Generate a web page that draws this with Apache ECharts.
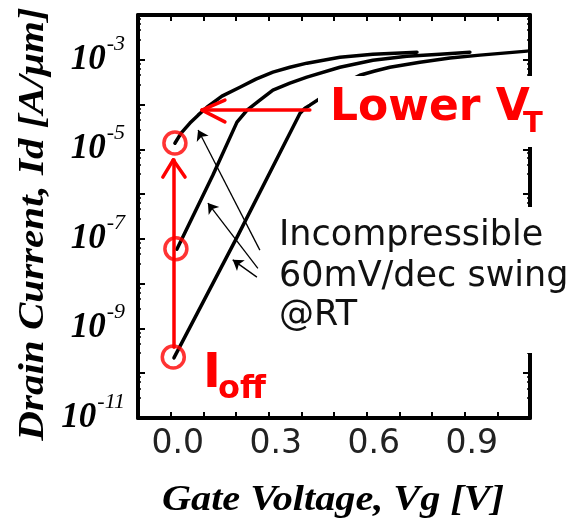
<!DOCTYPE html>
<html><head><meta charset="utf-8">
<script src="https://cdn.jsdelivr.net/npm/echarts@6/dist/echarts.min.js"></script>
<style>html,body{margin:0;padding:0;background:#fff}#c{width:571px;height:524px}</style>
</head><body><div id="c"></div>
<script>
// ---- data ----
const curve1Vg = [0.013, 0.032, 0.059, 0.084, 0.111, 0.157, 0.212, 0.261, 0.313, 0.365, 0.417, 0.518, 0.619, 0.754];
const curve1Id = [1.37e-5, 2.3e-5, 3.85e-5, 5.8e-5, 8.7e-5, 1.54e-4, 2.44e-4, 3.7e-4, 5.3e-4, 6.8e-4, 8.4e-4, 1.14e-3, 1.33e-3, 1.48e-3];

const curve2Vg = [0.019, 0.129, 0.203, 0.234, 0.273, 0.313, 0.365, 0.417, 0.518, 0.619, 0.723, 0.824, 0.916];
const curve2Id = [5.9e-8, 2.65e-6, 4.05e-5, 7.5e-5, 1.25e-4, 2.1e-4, 3.0e-4, 4.1e-4, 6.8e-4, 9.8e-4, 1.2e-3, 1.33e-3, 1.48e-3];

const curve3Vg = [0.010, 0.206, 0.396, 0.411, 0.426, 0.463, 0.506, 0.543, 0.579, 0.625, 0.671, 0.763, 0.855, 0.947, 1.091];
const curve3Id = [2.2e-10, 1.2e-7, 6.4e-5, 8.3e-5, 9.7e-5, 1.46e-4, 2.3e-4, 3.3e-4, 4.5e-4, 5.6e-4, 6.8e-4, 8.8e-4, 1.09e-3, 1.27e-3, 1.56e-3];

const circleVg = [0.013, 0.016, 0.008];
const circleId = [1.38e-5, 6.0e-8, 2.3e-10];

const ioffArrowTail = [0.008, 3.8e-10];
const ioffArrowTip = [0.008, 5.8e-6];
const ioffArrowWings = [[-0.024, 2.4e-6], [0.044, 2.4e-6]];

const vtArrowTail = [0.426, 7.5e-5];
const vtArrowTip = [0.096, 7.5e-5];
const vtArrowWings = [[0.166, 1.26e-4], [0.166, 4.1e-5]];

const swingArrowTails = [[0.273, 5.6e-8], [0.267, 2.2e-8], [0.264, 1.4e-8]];
const swingArrowTips = [[0.084, 2.7e-5], [0.114, 6.3e-7], [0.19, 3.4e-8]];

const xLabelValues = [0.0, 0.3, 0.6, 0.9];
const xLabelTexts = ['0.0', '0.3', '0.6', '0.9'];
const yLabelExponents = [-3, -5, -7, -9, -11];

const annotationLines = ['Incompressible', '60mV/dec swing', '@RT'];

// ---- chart ----
function pairs(xs, ys) { return xs.map((x, i) => [x, ys[i]]); }
function seg(a, b) { return [{ coord: a }, { coord: b }]; }

const chart = echarts.init(document.getElementById('c'), null, { renderer: 'canvas' });

const X_MIN = -0.1, X_MAX = 1.1, Y_MIN = 1e-11, Y_MAX = 1e-2;
const axisLineStyle = { color: '#000', width: 4 };
const tickStyle = { color: '#000', width: 2 };

function xAxisCfg(pos, showLabel) {
  return {
    type: 'value', position: pos, min: X_MIN, max: X_MAX, interval: 0.1,
    axisLine: { show: true, onZero: false, lineStyle: axisLineStyle },
    axisTick: { show: true, inside: true, length: 6, lineStyle: tickStyle },
    splitLine: { show: false },
    axisLabel: {
      show: showLabel, margin: 10, padding: [0, 0, 0, 14],
      fontFamily: 'DejaVu Sans', fontSize: 33, color: '#222',
      formatter: function (v) {
        for (let i = 0; i < xLabelValues.length; i++) {
          if (Math.abs(v - xLabelValues[i]) < 1e-6) return xLabelTexts[i];
        }
        return '';
      }
    }
  };
}
function yAxisCfg(pos, showLabel) {
  return {
    type: 'log', logBase: 10, position: pos, min: Y_MIN, max: Y_MAX, interval: 1,
    axisLine: { show: true, onZero: false, lineStyle: axisLineStyle },
    axisTick: { show: true, inside: true, length: 7, lineStyle: tickStyle },
    minorTick: { show: true, splitNumber: 5, length: 3, lineStyle: { color: '#000', width: 1.5 } },
    splitLine: { show: false },
    axisLabel: {
      show: showLabel, margin: 13,
      formatter: function (v) {
        const e = Math.round(Math.log10(v));
        if (yLabelExponents.indexOf(e) >= 0) return '{b|10}{s|' + e + '}';
        return '';
      },
      rich: {
        b: { fontFamily: 'Liberation Serif', fontStyle: 'italic', fontWeight: 'bold', fontSize: 35, color: '#000', lineHeight: 36, verticalAlign: 'middle' },
        s: { fontFamily: 'Liberation Serif', fontStyle: 'italic', fontSize: 22, color: '#000', verticalAlign: 'top', padding: [0, 0, 32, 1] }
      }
    }
  };
}

const curveStyle = { color: '#000', width: 3.5, join: 'round', cap: 'round' };
const option = {
  animation: false,
  backgroundColor: '#fff',
  grid: { left: 138, right: 41, top: 15, bottom: 106 },
  xAxis: [xAxisCfg('bottom', true), xAxisCfg('top', false)],
  yAxis: [yAxisCfg('left', true), yAxisCfg('right', false)],
  series: [
    { type: 'line', data: pairs(curve1Vg, curve1Id), showSymbol: false, smooth: false, lineStyle: curveStyle, z: 2 },
    { type: 'line', data: pairs(curve2Vg, curve2Id), showSymbol: false, smooth: false, lineStyle: curveStyle, z: 2 },
    { type: 'line', data: pairs(curve3Vg, curve3Id), showSymbol: false, smooth: false, lineStyle: curveStyle, z: 2 },
    {
      type: 'line', data: [], z: 3,
      markLine: {
        silent: true, animation: false, symbol: ['none', 'arrow'], symbolSize: 10,
        label: { show: false },
        lineStyle: { color: '#000', width: 1.3, type: 'solid' },
        emphasis: { disabled: true },
        data: swingArrowTails.map((t, i) => seg(t, swingArrowTips[i]))
      }
    },
    {
      type: 'scatter', z: 4,
      data: pairs(circleVg, circleId),
      symbol: 'circle', symbolSize: 22,
      itemStyle: { color: 'rgba(0,0,0,0)', borderColor: '#f00', borderWidth: 3.5 },
      markLine: {
        silent: true, animation: false, symbol: ['none', 'none'],
        label: { show: false },
        lineStyle: { color: '#f00', width: 3.5, type: 'solid', cap: 'round' },
        emphasis: { disabled: true },
        data: [
          seg(ioffArrowTail, ioffArrowTip),
          seg(ioffArrowTip, ioffArrowWings[0]),
          seg(ioffArrowTip, ioffArrowWings[1]),
          seg(vtArrowTail, vtArrowTip),
          seg(vtArrowTip, vtArrowWings[0]),
          seg(vtArrowTip, vtArrowWings[1])
        ]
      }
    }
  ],
  graphic: [
    { type: 'rect', z: 100, shape: { x: 318, y: 76, width: 235, height: 71 }, style: { fill: '#fff' } },
    { type: 'rect', z: 100, shape: { x: 276, y: 207, width: 280, height: 146 }, style: { fill: '#fff' } },
    { type: 'text', z: 101, x: 330, y: 109, style: { text: 'Lower V', fontFamily: 'DejaVu Sans', fontWeight: 'bold', fontSize: 44, fill: '#f00', align: 'left', verticalAlign: 'middle' } },
    { type: 'text', z: 101, x: 523, y: 124, style: { text: 'T', fontFamily: 'DejaVu Sans', fontWeight: 'bold', fontSize: 29, fill: '#f00', align: 'left', verticalAlign: 'middle' } },
    { type: 'text', z: 101, x: 203, y: 375, style: { text: 'I', fontFamily: 'DejaVu Sans', fontWeight: 'bold', fontSize: 48, fill: '#f00', align: 'left', verticalAlign: 'middle' } },
    { type: 'text', z: 101, x: 218, y: 390, style: { text: 'off', fontFamily: 'DejaVu Sans', fontWeight: 'bold', fontSize: 32, fill: '#f00', align: 'left', verticalAlign: 'middle' } },
    { type: 'text', z: 101, x: 279, y: 236, style: { text: annotationLines[0], fontFamily: 'DejaVu Sans', fontSize: 35, fill: '#111', align: 'left', verticalAlign: 'middle' } },
    { type: 'text', z: 101, x: 279, y: 277, style: { text: annotationLines[1], fontFamily: 'DejaVu Sans', fontSize: 35, fill: '#111', align: 'left', verticalAlign: 'middle' } },
    { type: 'text', z: 101, x: 279, y: 316, style: { text: annotationLines[2], fontFamily: 'DejaVu Sans', fontSize: 35, fill: '#111', align: 'left', verticalAlign: 'middle' } },
    { type: 'text', z: 101, x: 34, y: 224, rotation: Math.PI / 2, scaleX: 1.14, style: { text: 'Drain Current, Id [A/μm]', fontFamily: 'Liberation Serif', fontStyle: 'italic', fontWeight: 'bold', fontSize: 36, fill: '#000', align: 'center', verticalAlign: 'middle' } },
    { type: 'text', z: 101, x: 333, y: 501, scaleX: 1.15, style: { text: 'Gate Voltage, Vg [V]', fontFamily: 'Liberation Serif', fontStyle: 'italic', fontWeight: 'bold', fontSize: 35, fill: '#000', align: 'center', verticalAlign: 'middle' } }
  ]
};
chart.setOption(option);
</script>
</body></html>
